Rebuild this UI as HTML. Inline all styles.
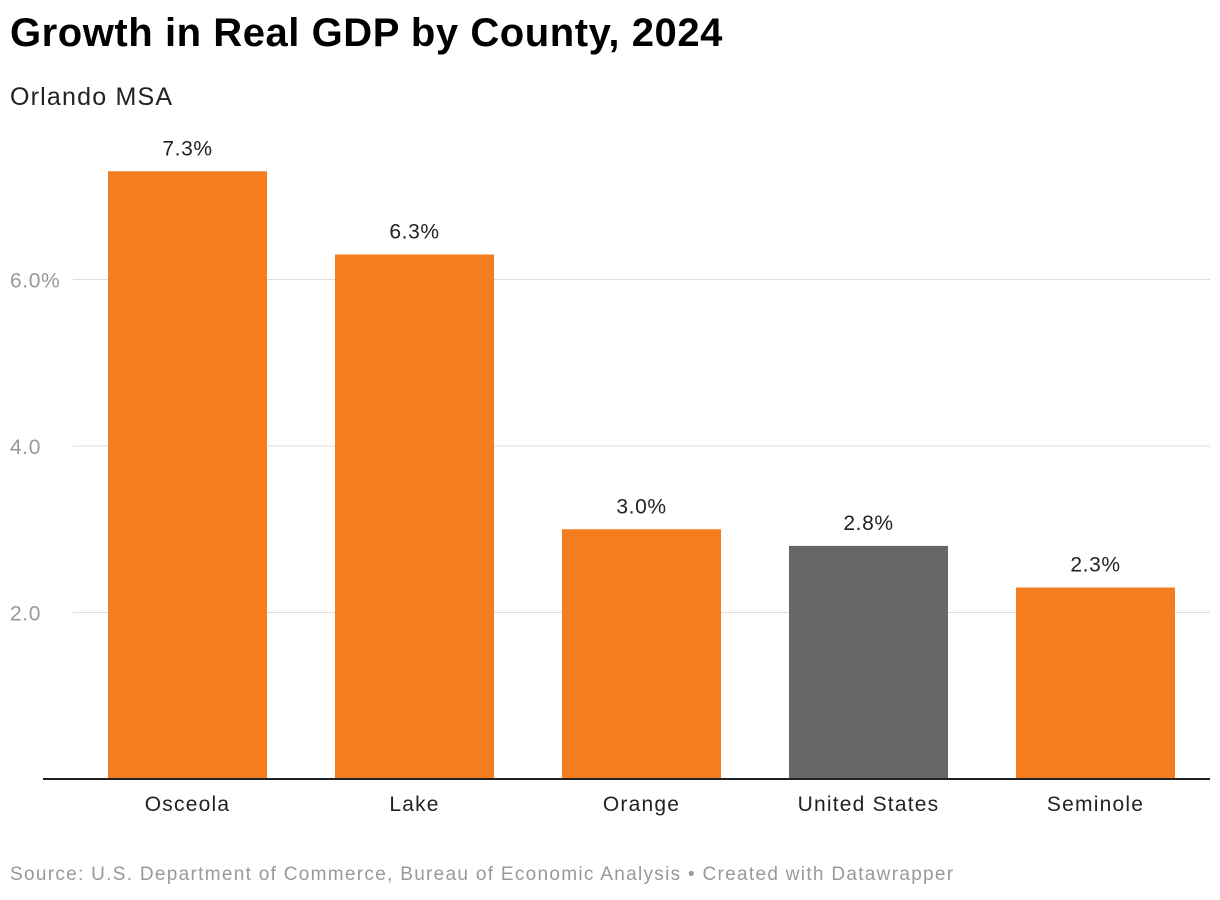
<!DOCTYPE html>
<html><head><meta charset="utf-8"><style>
body{margin:0;background:#fff;width:1220px;height:900px;overflow:hidden;font-family:"Liberation Sans",sans-serif;}
#title{position:absolute;left:10px;top:11px;font-size:40px;font-weight:bold;color:#000;letter-spacing:0.55px}
#sub{position:absolute;left:10px;top:83px;font-size:25px;color:#222;letter-spacing:1.2px}
#src{position:absolute;left:10px;top:864px;font-size:19px;color:#999;letter-spacing:1.3px}
svg{position:absolute;left:0;top:0}
</style></head><body>
<div id="title">Growth in Real GDP by County, 2024</div>
<div id="sub">Orlando MSA</div>
<svg id="chart" width="1220" height="900"></svg>
<div id="src">Source: U.S. Department of Commerce, Bureau of Economic Analysis • Created with Datawrapper</div>
<script>
const categories=["Osceola","Lake","Orange","United States","Seminole"];
const values=[7.3,6.3,3.0,2.8,2.3];
const valueLabels=["7.3%","6.3%","3.0%","2.8%","2.3%"];
const barColors=["#f47d20","#f47d20","#f47d20","#656867","#f47d20"];
const ticks=[2,4,6];
const tickLabels=["2.0","4.0","6.0%"];
const NS="http://www.w3.org/2000/svg";
const svg=document.getElementById('chart');
const x0=74,x1=1209,y0=779,unit=83.25;
const y=v=>y0-v*unit;
const step=(x1-x0)/categories.length,bw=159;
const bx=i=>x0+i*step+(step-bw)/2;
function mk(t,a){const e=document.createElementNS(NS,t);for(const k in a)e.setAttribute(k,a[k]);svg.appendChild(e);return e;}
ticks.forEach((t,i)=>{
 const g=mk('line',{x1:73,x2:1210,y1:y(t),y2:y(t),stroke:'#ddd','stroke-width':1});
 
 
 const l=mk('text',{x:10,y:y(t)+8,'font-size':21,fill:'#999','letter-spacing':0.6});
 l.textContent=tickLabels[i];
 
 
});
values.forEach((v,i)=>{
 const r=mk('rect',{x:bx(i),y:y(v),width:bw,height:y0-y(v),fill:barColors[i]});
 
 
 const t=mk('text',{x:bx(i)+bw/2,y:y(v)-16,'font-size':21,fill:'#222','text-anchor':'middle','letter-spacing':0.6});
 t.textContent=valueLabels[i];
 
 
 const c=mk('text',{x:bx(i)+bw/2,y:811,'font-size':21,fill:'#222','text-anchor':'middle','letter-spacing':1.2});
 c.textContent=categories[i];
 
 
});
const b=mk('line',{x1:43,x2:1210,y1:y0,y2:y0,stroke:'#222','stroke-width':2});


</script>
</body></html>
